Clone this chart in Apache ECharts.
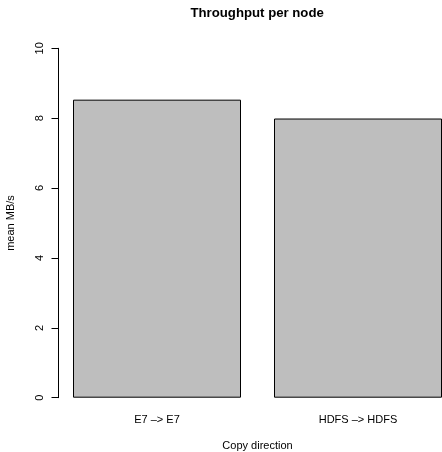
<!DOCTYPE html>
<html>
<head>
<meta charset="utf-8">
<script src="https://cdn.jsdelivr.net/npm/echarts@6/dist/echarts.min.js"></script>
<style>
  html, body { margin: 0; padding: 0; background: #fff; }
  #main { width: 442px; height: 452px; }
</style>
</head>
<body>
<div id="main"></div>
<script>
// categories and values
var directions = ['E7 –> E7', 'HDFS –> HDFS'];
var meanRate = [8.53, 7.99];
var yTicks = [0, 2, 4, 6, 8, 10];

var myChart = echarts.init(document.getElementById('main'));

var option = {
    animation: false,
    textStyle: { fontFamily: 'Liberation Sans, Arial, sans-serif', color: '#000' },
    title: {
        text: 'Throughput per node',
        left: 190.5,
        top: 7,
        padding: 0,
        textStyle: { fontSize: 13.2, fontWeight: 'bold', color: '#000' }
    },
    grid: {
        left: 56.5,
        top: 48.3,
        width: 402,
        bottom: 54.3,
        outerBoundsMode: 'none',
        containLabel: false
    },
    xAxis: {
        type: 'category',
        data: directions,
        axisLine: { show: false },
        axisTick: { show: false },
        axisLabel: { margin: 17, fontSize: 11, color: '#000' },
        name: 'Copy direction',
        nameLocation: 'middle',
        nameGap: 43,
        nameTextStyle: { fontSize: 11, color: '#000' }
    },
    yAxis: {
        type: 'value',
        min: yTicks[0],
        max: yTicks[yTicks.length - 1],
        interval: 2,
        offset: -2,
        splitLine: { show: false },
        axisLine: { show: true, lineStyle: { color: '#000', width: 1 } },
        axisTick: { show: true, length: 7, lineStyle: { color: '#000' } },
        axisLabel: { rotate: 90, margin: 13, fontSize: 11, color: '#000' },
        name: 'mean MB/s',
        nameLocation: 'middle',
        nameGap: 42,
        nameRotate: 90,
        nameTextStyle: { fontSize: 11, color: '#000' }
    },
    series: [{
        type: 'bar',
        data: meanRate,
        barWidth: 168,
        itemStyle: { color: '#bebebe', borderColor: '#000', borderWidth: 1 }
    }]
};

myChart.setOption(option);
</script>
</body>
</html>
